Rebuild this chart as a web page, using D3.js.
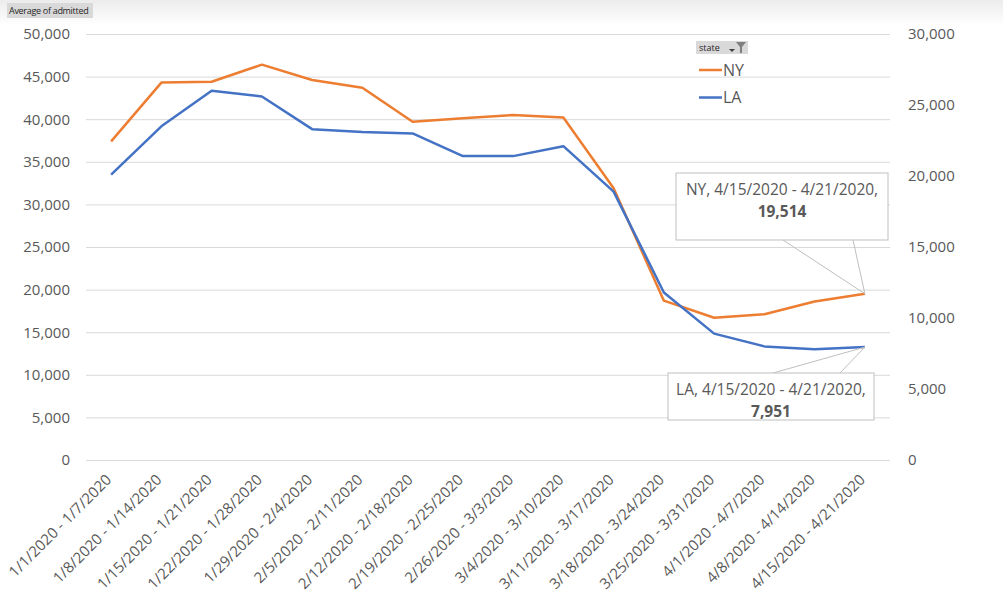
<!DOCTYPE html>
<html>
<head>
<meta charset="utf-8">
<script src="https://cdn.jsdelivr.net/npm/d3@7"></script>
<style>
  body { margin: 0; background: #fff; }
  svg text { font-family: "Open Sans", Lato, sans-serif; }
</style>
</head>
<body>
<script>
// weekly buckets
var weeks = ["1/1/2020 - 1/7/2020", "1/8/2020 - 1/14/2020", "1/15/2020 - 1/21/2020", "1/22/2020 - 1/28/2020",
  "1/29/2020 - 2/4/2020", "2/5/2020 - 2/11/2020", "2/12/2020 - 2/18/2020", "2/19/2020 - 2/25/2020",
  "2/26/2020 - 3/3/2020", "3/4/2020 - 3/10/2020", "3/11/2020 - 3/17/2020", "3/18/2020 - 3/24/2020",
  "3/25/2020 - 3/31/2020", "4/1/2020 - 4/7/2020", "4/8/2020 - 4/14/2020", "4/15/2020 - 4/21/2020"];
// NY on the left axis, LA on the right (secondary) axis
var nyAdmitted = [37400, 44300, 44400, 46400, 44600, 43700, 39700, 40100, 40500, 40200, 31900, 18700, 16700, 17100, 18600, 19514];
var laAdmitted = [20100, 23500, 26000, 25600, 23300, 23100, 23000, 21400, 21400, 22100, 18900, 11800, 8900, 8000, 7800, 7951];
var leftTicks = [0, 5000, 10000, 15000, 20000, 25000, 30000, 35000, 40000, 45000, 50000];
var rightTicks = [0, 5000, 10000, 15000, 20000, 25000, 30000];

var W = 1003, H = 606;
var grey = "#595959";

var svg = d3.select("body").append("svg")
  .attr("width", W)
  .attr("height", H);

// faint band at the top of the screenshot
var grad = svg.append("defs").append("linearGradient")
  .attr("id", "topfade").attr("x1", 0).attr("x2", 0).attr("y1", 0).attr("y2", 1);
grad.append("stop").attr("offset", "0%").attr("stop-color", "#ececec");
grad.append("stop").attr("offset", "100%").attr("stop-color", "#ffffff");
svg.append("rect").attr("width", W).attr("height", 26).attr("fill", "url(#topfade)");

var x = d3.scalePoint().domain(weeks).range([86, 890]).padding(0.5);
var yL = d3.scaleLinear().domain([0, 50000]).range([460, 34]);
var yR = d3.scaleLinear().domain([0, 30000]).range([460, 34]);
var fmt = d3.format(",");

// gridlines
svg.append("g")
  .attr("transform", "translate(86,0)")
  .call(d3.axisLeft(yL).tickValues(leftTicks).tickSize(-804).tickFormat(""))
  .call(function(g) {
    g.select(".domain").remove();
    g.selectAll("line").attr("stroke", "#d9d9d9").attr("stroke-width", 1);
  });

// left axis
svg.append("g")
  .attr("transform", "translate(86,0)")
  .call(d3.axisLeft(yL).tickValues(leftTicks).tickSize(0).tickPadding(16).tickFormat(fmt))
  .call(function(g) {
    g.select(".domain").remove();
    g.selectAll("text").attr("fill", grey).style("font-size", "15px");
  });

// right axis
svg.append("g")
  .attr("transform", "translate(890,0)")
  .call(d3.axisRight(yR).tickValues(rightTicks).tickSize(0).tickPadding(18).tickFormat(fmt))
  .call(function(g) {
    g.select(".domain").remove();
    g.selectAll("text").attr("fill", grey).style("font-size", "15px");
  });

// x axis, rotated labels
svg.append("g")
  .attr("transform", "translate(0,460)")
  .call(d3.axisBottom(x).tickSize(0))
  .call(function(g) {
    g.select(".domain").remove();
    g.selectAll("text")
      .attr("x", 0).attr("y", 0).attr("dy", "0.35em")
      .attr("text-anchor", "end")
      .attr("transform", "translate(-3,17) rotate(-45)")
      .attr("fill", grey)
      .style("font-size", "15px");
  });

// lines
var nyLine = d3.line().x(function(d, i) { return x(weeks[i]); }).y(function(d) { return yL(d); });
var laLine = d3.line().x(function(d, i) { return x(weeks[i]); }).y(function(d) { return yR(d); });

svg.append("path").datum(nyAdmitted)
  .attr("d", nyLine).attr("fill", "none")
  .attr("stroke", "#ED7D31").attr("stroke-width", 2.5).attr("stroke-linejoin", "round");
svg.append("path").datum(laAdmitted)
  .attr("d", laLine).attr("fill", "none")
  .attr("stroke", "#4472C4").attr("stroke-width", 2.5).attr("stroke-linejoin", "round");

// pivot field button
svg.append("rect").attr("x", 7).attr("y", 3).attr("width", 86).attr("height", 15).attr("fill", "#d9d9d9");
svg.append("text").attr("x", 9).attr("y", 14).attr("fill", "#262626")
  .style("font-size", "9px").style("letter-spacing", "-0.3px").text("Average of admitted");

// legend with "state" button
svg.append("rect").attr("x", 696).attr("y", 41).attr("width", 52).attr("height", 13).attr("fill", "#d9d9d9");
svg.append("text").attr("x", 699).attr("y", 51).attr("fill", "#262626")
  .style("font-size", "9px").text("state");
svg.append("path").attr("d", "M729,49 L735,49 L732,52 Z").attr("fill", "#404040");
svg.append("path").attr("d", "M736,42 L746,42 L742,47 L742,53 L740,53 L740,47 Z").attr("fill", "#7f7f7f");

var legend = [{ name: "NY", color: "#ED7D31", y: 70 }, { name: "LA", color: "#4472C4", y: 97.5 }];
var lg = svg.selectAll(".lg").data(legend).enter().append("g").attr("class", "lg");
lg.append("line").attr("x1", 699).attr("x2", 722)
  .attr("y1", function(d) { return d.y; }).attr("y2", function(d) { return d.y; })
  .attr("stroke", function(d) { return d.color; }).attr("stroke-width", 2.5);
lg.append("text").attr("x", 723).attr("y", function(d) { return d.y; }).attr("dy", "0.35em")
  .attr("fill", grey).style("font-size", "16px").text(function(d) { return d.name; });

// data callouts for the last week
var last = weeks.length - 1;
function callout(px, py, bx, by, bw, bh, wedge, label, value) {
  var g = svg.append("g");
  g.append("path")
    .attr("d", "M" + wedge[0] + "," + wedge[1] + " L" + px + "," + py + " L" + wedge[2] + "," + wedge[3])
    .attr("fill", "none").attr("stroke", "#bfbfbf").attr("stroke-width", 1);
  g.append("rect").attr("x", bx).attr("y", by).attr("width", bw).attr("height", bh)
    .attr("fill", "#fff").attr("stroke", "#bfbfbf");
  g.append("text").attr("x", bx + bw / 2).attr("y", by + 22).attr("text-anchor", "middle")
    .attr("fill", grey).style("font-size", "15.5px").text(label);
  g.append("text").attr("x", bx + bw / 2).attr("y", by + 44).attr("text-anchor", "middle")
    .attr("fill", grey).style("font-size", "15.5px").style("font-weight", "bold").text(value);
}
var px = x(weeks[last]);
callout(px, yL(nyAdmitted[last]), 676, 173, 212, 67, [783, 240, 853, 240], "NY, " + weeks[last] + ",", fmt(nyAdmitted[last]));
callout(px, yR(laAdmitted[last]), 668, 373, 206, 47, [773, 373, 840, 373], "LA, " + weeks[last] + ",", fmt(laAdmitted[last]));
</script>
</body>
</html>
